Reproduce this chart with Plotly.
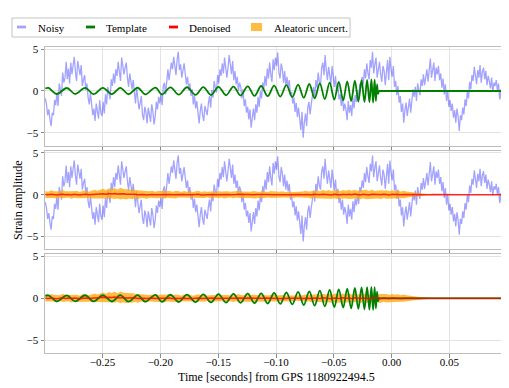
import plotly.graph_objects as go
from plotly.subplots import make_subplots

# Sampling of the strain series (seconds from GPS 1180922494.5)
T0 = -0.2995
DT_NOISY = 0.001
DT_BAND = 0.0025

# Noisy strain (one value per ms)
noisy = [
    -0.9, -1.6, -2.9, -2.2, -3.4, -4.2, -2.6, -2.9, -1.1, -1.7,
    -0.2, -1.8, 0.9, 0.2, -0.6, 2.2, 1.0, 1.6, 3.5, 1.4,
    2.7, 0.9, 3.4, 2.0, 3.0, 4.1, 2.3, 1.2, 3.6, 2.8,
    1.9, 3.1, 0.6, 1.4, 1.9, 0.1, 0.9, -0.8, -1.6, -0.2,
    -1.4, -2.9, -2.1, -3.6, -1.5, -2.4, -3.3, -1.1, -2.6, -3.0,
    -1.3, -2.7, -0.4, -1.6, 0.5, -0.2, -1.0, 1.4, 0.6, 2.1,
    0.9, 2.6, 1.8, 3.5, 2.2, 1.2, 4.0, 3.1, 2.0, 2.8,
    3.4, 1.6, 0.5, 2.1, 1.0, 0.2, 1.3, -0.7, -1.5, 0.4,
    -0.9, -2.2, -1.4, -0.6, -2.8, -3.5, -1.9, -2.5, -3.9, -2.0,
    -2.8, -3.7, -1.6, -2.4, -4.0, -3.1, -1.3, -2.2, -0.7, -1.5,
    -0.3, -1.7, 0.6, 1.0, -0.4, 1.8, 2.6, 1.3, 2.2, 3.4,
    2.6, 4.1, 3.0, 1.9, 3.8, 4.7, 2.5, 3.2, 1.6, 2.8,
    3.3, 2.1, 0.8, 1.7, 0.1, 0.9, -0.6, 0.2, -1.6, -0.5,
    -2.1, -1.2, -3.0, -3.9, -2.4, -1.5, -2.9, -3.6, -1.8, -2.3,
    -2.9, -1.5, -0.6, -2.0, 0.1, -0.8, 1.2, 0.4, -0.2, 1.9,
    0.9, 2.6, 1.8, 3.3, 2.1, 4.0, 3.0, 1.6, 2.8, 4.3,
    3.2, 2.0, 3.6, 1.3, 2.4, 0.8, 1.7, 0.0, 1.0, 0.5,
    -0.9, 0.2, -1.8, -1.0, -2.6, -1.9, -3.4, -2.2, -4.4, -3.0,
    -2.1, -3.5, -1.6, -2.6, -0.7, -1.9, 0.0, -0.9, 1.0, 0.3,
    1.8, 0.6, 2.7, 1.5, 3.4, 2.0, 1.1, 3.8, 2.5, 4.0,
    3.0, 4.6, 2.2, 1.5, 3.3, 2.6, 1.0, 2.4, 0.6, 1.7,
    0.4, 1.3, -0.6, -0.1, -1.5, -0.8, -2.5, -1.4, -3.1, -2.0,
    -3.4, -4.7, -2.5, -5.6, -3.8, -2.7, -4.2, -2.0, -1.3, -2.8,
    -1.6, -0.3, 0.5, -0.8, 1.3, 0.4, 2.2, 1.1, 0.6, 2.8,
    3.4, 1.9, 4.3, 2.5, 1.3, 2.9, 2.0, 0.8, 3.0, 1.5,
    0.5, 1.8, -0.2, 0.7, -1.0, -0.4, -1.8, -0.6, -2.4, -1.5,
    -2.2, -3.5, -1.2, -2.6, -1.7, -3.0, -0.8, -2.1, -0.5, -1.3,
    0.1, -1.1, 0.9, 0.3, 1.7, 0.8, 2.6, 1.5, 3.3, 2.2,
    1.4, 3.7, 2.8, 4.7, 2.1, 3.2, 4.0, 1.6, 2.5, 3.5,
    2.0, 1.1, 3.0, 2.4, 0.7, 2.8, 3.7, 1.3, 4.1, 2.6,
    1.7, 3.0, 0.5, 1.2, -0.5, 0.6, -1.4, -0.6, -2.5, -1.5,
    -3.8, -2.3, -1.4, -3.0, -2.0, -0.9, -2.6, -1.1, 0.2, -0.7,
    0.5, -1.2, 0.9, 0.1, -0.5, 1.4, 0.6, 2.0, 0.7, 1.6,
    2.6, 1.1, 3.1, 3.9, 1.6, 2.4, 3.4, 1.2, 2.8, 2.0,
    3.0, 1.3, 2.1, 0.4, 1.5, -0.4, 0.8, -1.2, 0.1, -1.9,
    -1.1, -2.4, -1.5, -3.2, -2.3, -3.8, -2.1, -3.0, -4.8, -2.9,
    -3.5, -2.0, -2.8, -1.0, -1.8, 0.0, -0.9, 1.1, 0.2, 1.9,
    1.2, 2.9, 2.0, 0.8, 2.5, 1.6, 3.1, 1.0, 2.3, 2.8,
    1.4, 2.4, 0.7, 1.8, 1.2, 0.3, 1.6, -0.1, 1.0, 0.6,
    1.3, 0.0, 0.9, -1.0, 0.2, -1.7, -0.6, -0.8, -2.0, -0.9,
]

# Template chirp: times of peaks / troughs and their values
template_t = [
    -0.2995, -0.2968, -0.2896, -0.2809, -0.2737, -0.2650, -0.2578, -0.2497,
    -0.2419, -0.2347, -0.2275, -0.2197, -0.2130, -0.2043, -0.1986, -0.1913,
    -0.1841, -0.1770, -0.1697, -0.1629, -0.1562, -0.1497, -0.1432, -0.1368,
    -0.1306, -0.1245, -0.1186, -0.1128, -0.1072, -0.1016, -0.0963, -0.0910,
    -0.0859, -0.0809, -0.0760, -0.0712, -0.0666, -0.0621, -0.0578, -0.0536,
    -0.0496, -0.0457, -0.0419, -0.0384, -0.0350, -0.0318, -0.0288, -0.0260,
    -0.0235, -0.0212, -0.0192, -0.0175, -0.0160, -0.0147, -0.0136, -0.0126,
    -0.0117, -0.0108, -0.0098, -0.0085, 0.0995,
]
template_h = [
    0.30, 0.36, -0.36, 0.36, -0.36, 0.37, -0.37, 0.37,
    -0.38, 0.38, -0.39, 0.39, -0.40, 0.41, -0.42, 0.43,
    -0.44, 0.45, -0.46, 0.47, -0.48, 0.50, -0.51, 0.53,
    -0.54, 0.56, -0.58, 0.60, -0.62, 0.64, -0.67, 0.70,
    -0.73, 0.77, -0.80, 0.84, -0.88, 0.92, -0.96, 1.00,
    -1.04, 1.08, -1.12, 1.16, -1.20, 1.24, -1.27, 1.30,
    -1.32, 1.34, -1.36, 1.38, -1.38, 1.35, -1.20, 0.80,
    -0.35, 0.0, 0.0, 0.0, 0.0,
]

# Denoised output and its aleatoric sigma (one value per 2.5 ms)
denoised = [
    0.03, -0.02, 0.05, 0.01, -0.04, 0.02, 0.06, -0.01, 0.03, -0.03,
    0.04, 0.00, -0.05, 0.02, 0.05, -0.02, 0.01, 0.07, 0.03, 0.08,
    0.12, 0.06, 0.14, 0.09, 0.15, 0.07, 0.12, 0.10, 0.05, 0.08,
    0.03, 0.06, -0.01, 0.04, 0.02, -0.03, 0.01, 0.03, -0.02, 0.00,
    0.02, -0.04, 0.01, 0.03, -0.02, 0.00, 0.04, -0.03, 0.02, -0.01,
    0.03, -0.02, 0.01, 0.04, -0.03, 0.00, 0.02, -0.01, 0.03, -0.02,
    0.01, 0.03, -0.02, 0.02, 0.00, -0.03, 0.02, 0.04, -0.01, 0.01,
    0.03, -0.02, 0.00, 0.02, -0.03, 0.01, 0.03, -0.01, 0.02, 0.00,
    -0.02, 0.01, 0.03, -0.01, 0.00, 0.02, -0.03, 0.01, 0.02, -0.01,
    0.04, 0.01, -0.03, 0.05, 0.02, -0.02, 0.06, 0.01, 0.03, -0.04,
    0.05, 0.02, -0.03, 0.06, 0.00, 0.04, -0.02, 0.07, 0.01, -0.03,
    0.05, 0.02, -0.04, 0.06, 0.00, 0.03, -0.02, 0.05, 0.01, -0.03,
    0.04, 0.00, 0.03, -0.02, 0.02, 0.01, -0.01, 0.02, 0.00, 0.01,
    0.00, 0.01, 0.00, 0.00, 0.01, 0.00, 0.00, 0.00, 0.00, 0.00,
    0.00, 0.00, 0.00, 0.00, 0.00, 0.00, 0.00, 0.00, 0.00, 0.00,
    0.00, 0.00, 0.00, 0.00, 0.00, 0.00, 0.00, 0.00, 0.00, 0.00,
]
sigma = [
    0.42, 0.36, 0.48, 0.40, 0.45, 0.35, 0.50, 0.41, 0.38, 0.47,
    0.40, 0.44, 0.36, 0.49, 0.42, 0.38, 0.46, 0.52, 0.44, 0.50,
    0.58, 0.48, 0.62, 0.55, 0.66, 0.52, 0.70, 0.58, 0.63, 0.54,
    0.57, 0.49, 0.53, 0.45, 0.41, 0.48, 0.39, 0.44, 0.37, 0.43,
    0.40, 0.46, 0.38, 0.42, 0.36, 0.45, 0.39, 0.35, 0.43, 0.37,
    0.41, 0.34, 0.39, 0.44, 0.36, 0.40, 0.33, 0.42, 0.37, 0.35,
    0.40, 0.36, 0.43, 0.38, 0.34, 0.41, 0.37, 0.44, 0.39, 0.36,
    0.42, 0.38, 0.45, 0.40, 0.36, 0.43, 0.39, 0.34, 0.41, 0.37,
    0.40, 0.35, 0.38, 0.33, 0.37, 0.32, 0.36, 0.31, 0.35, 0.38,
    0.42, 0.37, 0.45, 0.40, 0.48, 0.43, 0.50, 0.44, 0.52, 0.46,
    0.49, 0.54, 0.45, 0.51, 0.47, 0.55, 0.48, 0.52, 0.46, 0.53,
    0.49, 0.56, 0.47, 0.52, 0.45, 0.50, 0.54, 0.46, 0.51, 0.44,
    0.49, 0.43, 0.47, 0.40, 0.44, 0.36, 0.32, 0.27, 0.23, 0.18,
    0.14, 0.11, 0.08, 0.06, 0.05, 0.04, 0.04, 0.03, 0.03, 0.03,
    0.03, 0.03, 0.03, 0.03, 0.03, 0.03, 0.03, 0.03, 0.03, 0.03,
    0.03, 0.03, 0.03, 0.03, 0.03, 0.03, 0.03, 0.03, 0.03, 0.03,
]

legend_labels = ["Noisy", "Template", "Denoised", "Aleatoric uncert."]

# Estilos
C_NOISY = "rgba(0,0,255,0.36)"
C_TEMPLATE = "#008000"
C_DENOISED = "rgba(255,0,0,0.8)"
C_BAND = "rgba(255,165,0,0.75)"
FONT = "Liberation Serif, Times New Roman, serif"

# the page body has an 8px margin, so the figure is shifted by OFF in the window
OFF = 8
W, H = 509 - OFF, 388 - OFF
ML, MT = 45 - OFF, 47 - OFF          # plot area starts at window x=45, y=47
MR, MB = W - (507 - OFF), H - (353 - OFF)
PW, PH = W - ML - MR, H - MT - MB

upper = [d + s for d, s in zip(denoised, sigma)]
lower = [d - s for d, s in zip(denoised, sigma)]

fig = make_subplots(rows=3, cols=1, shared_xaxes=True, vertical_spacing=5 / PH)


def add_noisy(row):
    fig.add_trace(go.Scatter(y=noisy, x0=T0, dx=DT_NOISY, mode="lines",
                             line=dict(color=C_NOISY, width=1.3)), row=row, col=1)


def add_template(row):
    fig.add_trace(go.Scatter(x=template_t, y=template_h, mode="lines",
                             line=dict(color=C_TEMPLATE, width=1.8, shape="spline", smoothing=1.0)),
                  row=row, col=1)


def add_band(row):
    fig.add_trace(go.Scatter(y=lower, x0=T0, dx=DT_BAND, mode="lines",
                             line=dict(width=0, color=C_BAND)), row=row, col=1)
    fig.add_trace(go.Scatter(y=upper, x0=T0, dx=DT_BAND, mode="lines", fill="tonexty",
                             fillcolor=C_BAND, line=dict(width=0, color=C_BAND)), row=row, col=1)


def add_denoised(row):
    fig.add_trace(go.Scatter(y=denoised, x0=T0, dx=DT_BAND, mode="lines",
                             line=dict(color=C_DENOISED, width=1.5)), row=row, col=1)


# Painel 1: ruidoso + template
add_noisy(1)
add_template(1)
# Painel 2: ruidoso + incerteza + denoised
add_noisy(2)
add_band(2)
add_denoised(2)
# Painel 3: incerteza + template + denoised
add_band(3)
add_template(3)
add_denoised(3)

axis_style = dict(showline=True, mirror=True, linecolor="#BDBDBD", linewidth=1,
                  showgrid=True, gridcolor="#E3E3E3", gridwidth=1, zeroline=False,
                  ticks="outside", ticklen=3.5, tickcolor="#8A8A8A", tickwidth=1,
                  automargin=False,
                  tickfont=dict(family=FONT, size=11, color="black"))

fig.update_xaxes(range=[-0.2998, 0.0998], dtick=0.05, tick0=0, tickformat=".2f",
                 ticklabelstandoff=-5, **axis_style)
fig.update_yaxes(range=[-6.55, 5.27], tickvals=[-5, 0, 5], **axis_style)


def px_x(p):
    # window pixel -> paper x
    return (p - OFF - ML) / PW


def px_y(p):
    # window pixel (from top) -> paper y
    return (H - MB - (p - OFF)) / PH


# Legenda manual (caixa no topo)
shapes = [dict(type="rect", xref="paper", yref="paper",
               x0=px_x(12), x1=px_x(350), y0=px_y(37), y1=px_y(18),
               line=dict(color="#C4C4C4", width=1), fillcolor="white")]
swatches = [
    (17, 26, 25.6, 28.4, C_NOISY),
    (86, 95, 25.6, 28.4, C_TEMPLATE),
    (169, 178, 25.6, 28.4, "red"),
    (251, 262, 23, 31, C_BAND),
]
for x0, x1, y0, y1, c in swatches:
    shapes.append(dict(type="rect", xref="paper", yref="paper",
                       x0=px_x(x0), x1=px_x(x1), y0=px_y(y1), y1=px_y(y0),
                       line=dict(width=0), fillcolor=c))

annotations = []
for lbl, xt in zip(legend_labels, [36, 104, 187, 272]):
    annotations.append(dict(text=lbl, xref="paper", yref="paper", x=px_x(xt), y=px_y(27.5),
                            xanchor="left", yanchor="middle", showarrow=False,
                            font=dict(family=FONT, size=11, color="black")))

annotations.append(dict(text="Strain amplitude", xref="paper", yref="paper",
                        x=px_x(18), y=px_y(200), textangle=-90, showarrow=False,
                        xanchor="center", yanchor="middle",
                        font=dict(family=FONT, size=12, color="black")))
annotations.append(dict(text="Time [seconds] from GPS 1180922494.5", xref="paper", yref="paper",
                        x=px_x(276), y=px_y(377), showarrow=False, xanchor="center", yanchor="middle",
                        font=dict(family=FONT, size=12, color="black")))

fig.update_layout(
    width=W, height=H,
    margin=dict(l=ML, r=MR, t=MT, b=MB),
    paper_bgcolor="white", plot_bgcolor="white",
    showlegend=False,
    font=dict(family=FONT, size=11, color="black"),
    shapes=shapes,
    annotations=annotations,
)

fig.write_html("out.html")
